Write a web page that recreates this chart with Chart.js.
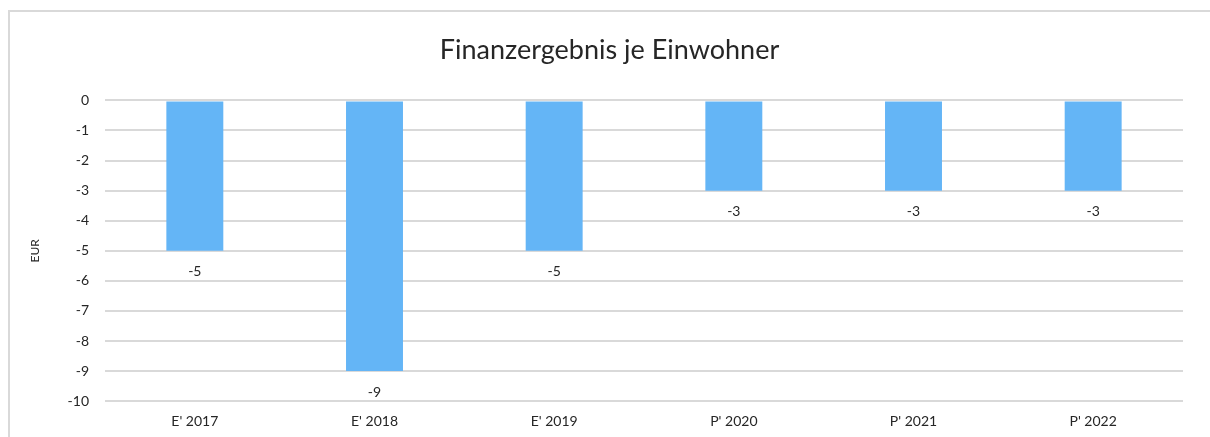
<!DOCTYPE html>
<html lang="de">
<head>
    <meta charset="UTF-8">
    <title>Finanzergebnis je Einwohner</title>
    <script src="https://cdn.jsdelivr.net/npm/chart.js"></script>
    <style>
        html, body { margin: 0; padding: 0; background: #fff; }
        #wrap { width: 1210px; height: 437px; position: relative; }
    </style>
</head>
<body>
    <div id="wrap">
        <canvas id="chart" width="1210" height="437"></canvas>
    </div>

    <script>
        // Daten
        const categories = ["E' 2017", "E' 2018", "E' 2019", "P' 2020", "P' 2021", "P' 2022"];
        const values = [-5, -9, -5, -3, -3, -3];
        const yTicks = [0, -1, -2, -3, -4, -5, -6, -7, -8, -9, -10];

        const FONT = 'Lato, "Open Sans", sans-serif';

        // Rahmen um das Diagramm
        const frame = {
            id: 'frame',
            beforeDraw(chart) {
                const ctx = chart.ctx;
                ctx.save();
                ctx.fillStyle = '#fff';
                ctx.fillRect(0, 0, chart.width, chart.height);
                ctx.strokeStyle = '#d9d9d9';
                ctx.lineWidth = 2;
                ctx.beginPath();
                ctx.moveTo(9, chart.height + 2);
                ctx.lineTo(9, 11);
                ctx.lineTo(chart.width + 2, 11);
                ctx.stroke();
                ctx.restore();
            }
        };

        // Werte unter den Balken
        const barLabels = {
            id: 'barLabels',
            afterDatasetsDraw(chart) {
                const ctx = chart.ctx;
                const meta = chart.getDatasetMeta(0);
                ctx.save();
                ctx.font = '14px ' + FONT;
                ctx.fillStyle = '#262626';
                ctx.textAlign = 'center';
                ctx.textBaseline = 'middle';
                meta.data.forEach((bar, i) => {
                    ctx.fillText(values[i], bar.x, bar.y + 21);
                });
                ctx.restore();
            }
        };

        new Chart(document.getElementById('chart'), {
            type: 'bar',
            data: {
                labels: categories,
                datasets: [{
                    data: values,
                    backgroundColor: '#64b5f6',
                    borderWidth: 0,
                    categoryPercentage: 1,
                    barPercentage: 0.317
                }]
            },
            options: {
                responsive: false,
                animation: false,
                layout: { padding: { left: 36, right: 27, top: 10, bottom: -5 } },
                plugins: {
                    legend: { display: false },
                    tooltip: { enabled: false },
                    title: {
                        display: true,
                        text: 'Finanzergebnis je Einwohner',
                        color: '#262626',
                        font: { family: FONT, size: 27, weight: 'normal' },
                        padding: { top: 24, bottom: 34 }
                    }
                },
                scales: {
                    x: {
                        grid: { display: false, drawTicks: false },
                        border: { display: false },
                        ticks: {
                            color: '#262626',
                            font: { family: FONT, size: 14 },
                            padding: 12
                        }
                    },
                    y: {
                        min: -10,
                        max: 0,
                        afterFit(scale) { scale.width = 69; },
                        afterBuildTicks(scale) {
                            scale.ticks = yTicks.map(v => ({ value: v }));
                        },
                        grid: { color: '#d9d9d9', lineWidth: 2, drawTicks: false },
                        border: { display: false },
                        ticks: {
                            color: '#262626',
                            font: { family: FONT, size: 14 },
                            padding: 16
                        },
                        title: {
                            display: true,
                            text: 'EUR',
                            color: '#262626',
                            font: { family: FONT, size: 12 },
                            padding: { top: -8, bottom: 0 }
                        }
                    }
                }
            },
            plugins: [frame, barLabels]
        });
    </script>
</body>
</html>
